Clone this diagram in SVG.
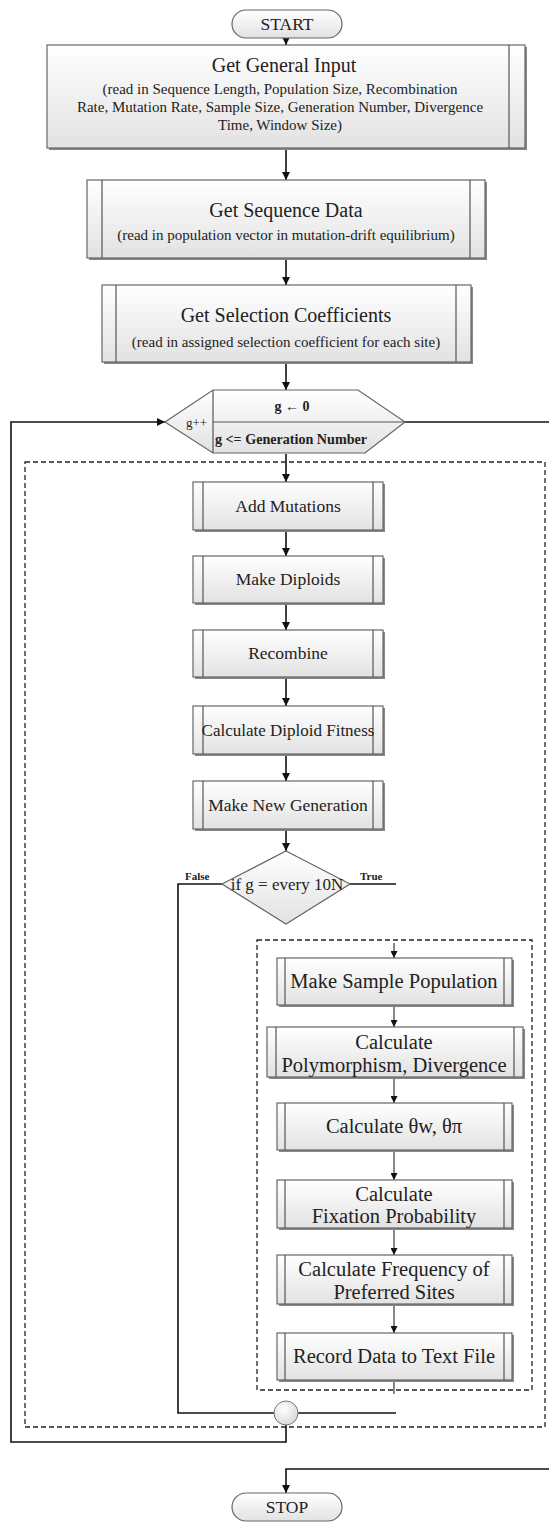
<svg xmlns="http://www.w3.org/2000/svg" width="549" height="1529" viewBox="0 0 549 1529">
<defs>
<linearGradient id="gf" x1="0" y1="0" x2="0" y2="1">
<stop offset="0" stop-color="#ffffff"/>
<stop offset="1" stop-color="#e2e2e2"/>
</linearGradient>
<radialGradient id="gc" cx="0.4" cy="0.35" r="0.7">
<stop offset="0" stop-color="#ffffff"/>
<stop offset="1" stop-color="#d8d8d8"/>
</radialGradient>
<marker id="ah" viewBox="0 0 10 10" refX="10" refY="5" markerWidth="8" markerHeight="8" markerUnits="userSpaceOnUse" orient="auto">
<path d="M0,0 L10,5 L0,10 z" fill="#111"/>
</marker>
<marker id="ahs" viewBox="0 0 10 10" refX="10" refY="5" markerWidth="7" markerHeight="7" markerUnits="userSpaceOnUse" orient="auto">
<path d="M0,0 L10,5 L0,10 z" fill="#111"/>
</marker>
</defs>
<style>
.box{fill:url(#gf);stroke:#666;stroke-width:1.2}
.sh{fill:#888}
.in{stroke:#555;stroke-width:1.2;fill:none}
text{font-family:"Liberation Serif","Times New Roman","DejaVu Serif",serif;fill:#222}
.t{text-anchor:middle}
.tt{font-size:20px}
.ts{font-size:15px}
.tm{font-size:17.5px}
.ti{font-size:20.5px}
.tb{font-weight:bold;font-size:14px}
.c{stroke:#111;stroke-width:1.6;fill:none}
.cg{stroke:#555;stroke-width:1.4;fill:none}
.d{stroke:#222;stroke-width:1.3;fill:none;stroke-dasharray:5,3}
</style>
<rect width="549" height="1529" fill="#fff"/>

<g id="connectors">
<line class="c" x1="286" y1="38" x2="286" y2="45" marker-end="url(#ah)"/>
<line class="c" x1="286" y1="148" x2="286" y2="180" marker-end="url(#ah)"/>
<line class="c" x1="286" y1="259" x2="286" y2="285" marker-end="url(#ah)"/>
<line class="c" x1="286" y1="363" x2="286" y2="390" marker-end="url(#ah)"/>
<line class="c" x1="286" y1="454" x2="286" y2="482" marker-end="url(#ah)"/>
<line class="c" x1="286" y1="531" x2="286" y2="556" marker-end="url(#ah)"/>
<line class="c" x1="286" y1="604" x2="286" y2="630" marker-end="url(#ah)"/>
<line class="c" x1="286" y1="678" x2="286" y2="706" marker-end="url(#ah)"/>
<line class="c" x1="286" y1="755" x2="286" y2="781" marker-end="url(#ah)"/>
<line class="c" x1="286" y1="830" x2="286" y2="851" marker-end="url(#ah)"/>
<polyline class="c" points="286,1425 286,1442 11,1442 11,422 165,422" marker-end="url(#ah)"/>
<line class="c" x1="405" y1="422" x2="549" y2="422"/>
<polyline class="c" points="549,1469 286,1469 286,1493" marker-end="url(#ah)"/>
<polyline class="c" points="222,884 178,884 178,1413 274,1413"/>
<line class="c" x1="350" y1="884" x2="396" y2="884"/>
<line class="c" x1="298" y1="1413" x2="396" y2="1413"/>
<line class="cg" x1="394" y1="943" x2="394" y2="958" marker-end="url(#ahs)"/>
<line class="cg" x1="394" y1="1006" x2="394" y2="1027" marker-end="url(#ahs)"/>
<line class="cg" x1="394" y1="1079" x2="394" y2="1103" marker-end="url(#ahs)"/>
<line class="cg" x1="394" y1="1151" x2="394" y2="1180" marker-end="url(#ahs)"/>
<line class="cg" x1="394" y1="1229" x2="394" y2="1255" marker-end="url(#ahs)"/>
<line class="cg" x1="394" y1="1306" x2="394" y2="1333" marker-end="url(#ahs)"/>
<line class="cg" x1="394" y1="1381" x2="394" y2="1394"/>
</g>

<g id="regions">
<rect class="d" x="25" y="462" width="520" height="965"/>
<rect class="d" x="257" y="940" width="275" height="450"/>
</g>

<g id="start">
<rect x="232" y="10" width="110" height="28" rx="14" class="box"/>
<text class="t tm" x="287" y="30">START</text>
</g>

<g id="general-input">
<rect class="sh" x="49" y="47" width="478" height="103"/>
<rect class="box" x="47" y="45" width="478" height="103"/>
<line class="in" x1="509" y1="45" x2="509" y2="148"/>
<text class="t tt" x="284" y="72">Get General Input</text>
<text class="t ts" x="280" y="94">(read in Sequence Length, Population Size, Recombination</text>
<text class="t ts" x="280" y="112">Rate, Mutation Rate, Sample Size, Generation Number, Divergence</text>
<text class="t ts" x="280" y="130">Time, Window Size)</text>
</g>

<g id="sequence-data">
<rect class="sh" x="89" y="182" width="398" height="78"/>
<rect class="box" x="87" y="180" width="398" height="78"/>
<line class="in" x1="102" y1="180" x2="102" y2="258"/>
<line class="in" x1="470" y1="180" x2="470" y2="258"/>
<text class="t tt" x="286" y="217">Get Sequence Data</text>
<text class="t ts" x="286" y="240">(read in population vector in mutation-drift equilibrium)</text>
</g>

<g id="selection-coefficients">
<rect class="sh" x="104" y="287" width="369" height="77"/>
<rect class="box" x="102" y="285" width="369" height="77"/>
<line class="in" x1="116" y1="285" x2="116" y2="362"/>
<line class="in" x1="456" y1="285" x2="456" y2="362"/>
<text class="t tt" x="286" y="322">Get Selection Coefficients</text>
<text class="t ts" x="286" y="347">(read in assigned selection coefficient for each site)</text>
</g>

<g id="loop">
<polygon class="box" points="213,390 358,390 405,422 365,453 213,453 165,422"/>
<line class="in" x1="213" y1="390" x2="213" y2="453"/>
<line class="in" x1="213" y1="422" x2="405" y2="422"/>
<text class="tb t" x="292" y="411">g ← 0</text>
<text class="tb" x="215" y="444" textLength="152" lengthAdjust="spacingAndGlyphs">g &lt;= Generation Number</text>
<text x="186" y="427" style="font-size:13px">g++</text>
</g>

<g id="add-mutations">
<rect class="sh" x="195" y="484" width="190" height="48"/>
<rect class="box" x="193" y="482" width="190" height="48"/>
<line class="in" x1="203" y1="482" x2="203" y2="530"/>
<line class="in" x1="373" y1="482" x2="373" y2="530"/>
<text class="t tm" x="288" y="512">Add Mutations</text>
</g>

<g id="make-diploids">
<rect class="sh" x="195" y="558" width="190" height="47"/>
<rect class="box" x="193" y="556" width="190" height="47"/>
<line class="in" x1="203" y1="556" x2="203" y2="603"/>
<line class="in" x1="373" y1="556" x2="373" y2="603"/>
<text class="t tm" x="288" y="585">Make Diploids</text>
</g>

<g id="recombine">
<rect class="sh" x="195" y="632" width="190" height="47"/>
<rect class="box" x="193" y="630" width="190" height="47"/>
<line class="in" x1="203" y1="630" x2="203" y2="677"/>
<line class="in" x1="373" y1="630" x2="373" y2="677"/>
<text class="t tm" x="288" y="659">Recombine</text>
</g>

<g id="diploid-fitness">
<rect class="sh" x="195" y="708" width="190" height="48"/>
<rect class="box" x="193" y="706" width="190" height="48"/>
<line class="in" x1="203" y1="706" x2="203" y2="754"/>
<line class="in" x1="373" y1="706" x2="373" y2="754"/>
<text class="t" x="288" y="736" style="font-size:17px">Calculate Diploid Fitness</text>
</g>

<g id="new-generation">
<rect class="sh" x="195" y="783" width="190" height="48"/>
<rect class="box" x="193" y="781" width="190" height="48"/>
<line class="in" x1="203" y1="781" x2="203" y2="829"/>
<line class="in" x1="373" y1="781" x2="373" y2="829"/>
<text class="t tm" x="288" y="811">Make New Generation</text>
</g>

<g id="decision">
<polygon class="box" points="286,851 350,884 286,924 222,884"/>
<text class="t" x="287" y="890" style="font-size:17px">if g = every 10N</text>
<text class="tb" x="185" y="880" style="font-size:11px">False</text>
<text class="tb" x="360" y="880" style="font-size:11px">True</text>
</g>

<g id="sample-population">
<rect class="sh" x="279" y="960" width="235" height="47"/>
<rect class="box" x="277" y="958" width="235" height="47"/>
<line class="in" x1="285" y1="958" x2="285" y2="1005"/>
<line class="in" x1="504" y1="958" x2="504" y2="1005"/>
<text class="t ti" x="394" y="988">Make Sample Population</text>
</g>

<g id="polymorphism">
<rect class="sh" x="269" y="1029" width="256" height="50"/>
<rect class="box" x="267" y="1027" width="256" height="50"/>
<line class="in" x1="276" y1="1027" x2="276" y2="1077"/>
<line class="in" x1="514" y1="1027" x2="514" y2="1077"/>
<text class="t ti" x="394" y="1049">Calculate</text>
<text class="t ti" x="394" y="1072">Polymorphism, Divergence</text>
</g>

<g id="theta">
<rect class="sh" x="279" y="1105" width="235" height="47"/>
<rect class="box" x="277" y="1103" width="235" height="47"/>
<line class="in" x1="285" y1="1103" x2="285" y2="1150"/>
<line class="in" x1="504" y1="1103" x2="504" y2="1150"/>
<text class="t ti" x="394" y="1133">Calculate θw, θπ</text>
</g>

<g id="fixation">
<rect class="sh" x="279" y="1182" width="235" height="48"/>
<rect class="box" x="277" y="1180" width="235" height="48"/>
<line class="in" x1="285" y1="1180" x2="285" y2="1228"/>
<line class="in" x1="504" y1="1180" x2="504" y2="1228"/>
<text class="t ti" x="394" y="1201">Calculate</text>
<text class="t ti" x="394" y="1223">Fixation Probability</text>
</g>

<g id="preferred-sites">
<rect class="sh" x="279" y="1257" width="235" height="49"/>
<rect class="box" x="277" y="1255" width="235" height="49"/>
<line class="in" x1="285" y1="1255" x2="285" y2="1304"/>
<line class="in" x1="504" y1="1255" x2="504" y2="1304"/>
<text class="t ti" x="394" y="1276">Calculate Frequency of</text>
<text class="t ti" x="394" y="1299">Preferred Sites</text>
</g>

<g id="record-data">
<rect class="sh" x="279" y="1335" width="235" height="47"/>
<rect class="box" x="277" y="1333" width="235" height="47"/>
<line class="in" x1="285" y1="1333" x2="285" y2="1380"/>
<line class="in" x1="504" y1="1333" x2="504" y2="1380"/>
<text class="t ti" x="394" y="1363">Record Data to Text File</text>
</g>

<g id="join">
<circle cx="286" cy="1413" r="12" fill="url(#gc)" stroke="#777" stroke-width="1"/>
</g>

<g id="stop">
<rect x="232" y="1493" width="110" height="28" rx="14" class="box"/>
<text class="t tm" x="287" y="1513">STOP</text>
</g>
</svg>
